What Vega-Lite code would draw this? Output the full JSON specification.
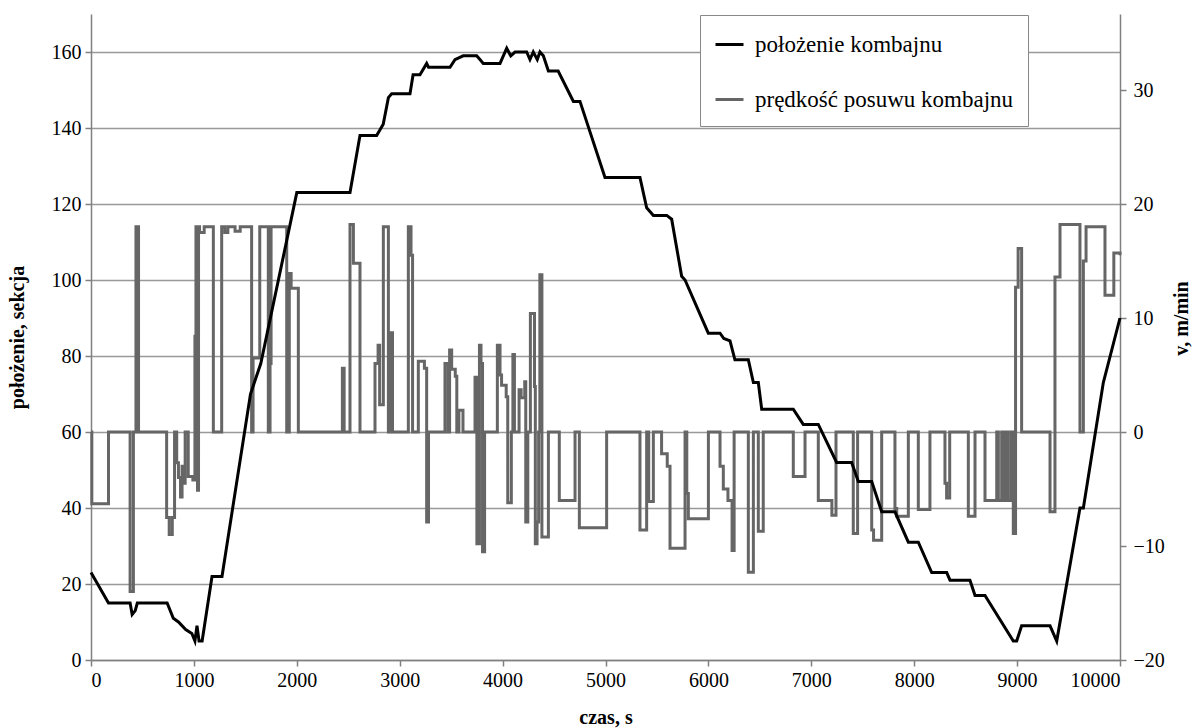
{
  "$schema": "https://vega.github.io/schema/vega-lite/v6.json",
  "width": 1029,
  "height": 646,
  "autosize": "none",
  "padding": {"left": 91, "top": 14, "right": 78, "bottom": 68},
  "background": "white",
  "config": {
    "view": {"stroke": null},
    "font": "Liberation Serif",
    "axis": {"labelFont": "Liberation Serif", "titleFont": "Liberation Serif", "labelFontSize": 20, "titleFontSize": 20, "titleFontWeight": "bold", "labelColor": "#000", "titleColor": "#000", "domainColor": "#808080", "domainWidth": 1.5, "tickColor": "#808080", "tickWidth": 1.5, "tickSize": 6}
  },
  "datasets": {
    "pos": [
      {"t": 0, "p": 23}, {"t": 170, "p": 15}, {"t": 380, "p": 15}, {"t": 400, "p": 12}, {"t": 430, "p": 13}, {"t": 450, "p": 15}, {"t": 740, "p": 15},
      {"t": 800, "p": 11}, {"t": 850, "p": 10}, {"t": 920, "p": 8}, {"t": 980, "p": 7}, {"t": 1010, "p": 5}, {"t": 1030, "p": 9}, {"t": 1050, "p": 5}, {"t": 1080, "p": 5},
      {"t": 1176, "p": 22}, {"t": 1273, "p": 22}, {"t": 1550, "p": 70}, {"t": 1600, "p": 74}, {"t": 1650, "p": 78}, {"t": 2000, "p": 123},
      {"t": 2517, "p": 123}, {"t": 2614, "p": 138}, {"t": 2776, "p": 138}, {"t": 2840, "p": 141}, {"t": 2890, "p": 148}, {"t": 2922, "p": 149}, {"t": 3100, "p": 149},
      {"t": 3130, "p": 154}, {"t": 3197, "p": 154}, {"t": 3262, "p": 157}, {"t": 3280, "p": 156}, {"t": 3489, "p": 156}, {"t": 3537, "p": 158}, {"t": 3617, "p": 159},
      {"t": 3748, "p": 159}, {"t": 3780, "p": 158}, {"t": 3812, "p": 157}, {"t": 3975, "p": 157}, {"t": 4040, "p": 161}, {"t": 4079, "p": 159}, {"t": 4121, "p": 160},
      {"t": 4234, "p": 160}, {"t": 4266, "p": 158}, {"t": 4298, "p": 160}, {"t": 4337, "p": 158}, {"t": 4363, "p": 160}, {"t": 4396, "p": 159}, {"t": 4445, "p": 155},
      {"t": 4540, "p": 155}, {"t": 4688, "p": 147}, {"t": 4752, "p": 147}, {"t": 4995, "p": 127}, {"t": 5335, "p": 127}, {"t": 5400, "p": 119}, {"t": 5465, "p": 117},
      {"t": 5595, "p": 117}, {"t": 5643, "p": 116}, {"t": 5740, "p": 101}, {"t": 5773, "p": 100}, {"t": 5999, "p": 86}, {"t": 6113, "p": 86}, {"t": 6150, "p": 84.6},
      {"t": 6210, "p": 84}, {"t": 6258, "p": 79}, {"t": 6388, "p": 79}, {"t": 6437, "p": 73}, {"t": 6485, "p": 73}, {"t": 6518, "p": 66}, {"t": 6825, "p": 66},
      {"t": 6922, "p": 62}, {"t": 7068, "p": 62}, {"t": 7246, "p": 52}, {"t": 7392, "p": 52}, {"t": 7457, "p": 47}, {"t": 7587, "p": 47}, {"t": 7684, "p": 39},
      {"t": 7813, "p": 39}, {"t": 7943, "p": 31}, {"t": 8040, "p": 31}, {"t": 8170, "p": 23}, {"t": 8316, "p": 23}, {"t": 8348, "p": 21}, {"t": 8542, "p": 21},
      {"t": 8591, "p": 17}, {"t": 8688, "p": 17}, {"t": 8963, "p": 5}, {"t": 8996, "p": 5}, {"t": 9044, "p": 9}, {"t": 9320, "p": 9}, {"t": 9385, "p": 5},
      {"t": 9611, "p": 40}, {"t": 9644, "p": 40}, {"t": 9838, "p": 73}, {"t": 10000, "p": 90}
    ],
    "vel": [
      {"t": 0, "v": 0}, {"t": 8, "v": -6.3}, {"t": 170, "v": 0}, {"t": 380, "v": -14}, {"t": 412, "v": 0}, {"t": 437, "v": 18}, {"t": 462, "v": 0},
      {"t": 735, "v": -7.5}, {"t": 760, "v": -9}, {"t": 790, "v": -7.5}, {"t": 812, "v": 0}, {"t": 833, "v": -2.7}, {"t": 850, "v": -4}, {"t": 870, "v": -5.7},
      {"t": 885, "v": -3}, {"t": 900, "v": -4.5}, {"t": 915, "v": 0}, {"t": 945, "v": -3.9}, {"t": 990, "v": -4.2}, {"t": 1010, "v": 8.4}, {"t": 1020, "v": 18},
      {"t": 1035, "v": -5.1}, {"t": 1045, "v": 18}, {"t": 1055, "v": 17.5}, {"t": 1100, "v": 18}, {"t": 1189, "v": 0}, {"t": 1270, "v": 18}, {"t": 1300, "v": 17.5},
      {"t": 1330, "v": 18}, {"t": 1400, "v": 17.6}, {"t": 1450, "v": 18}, {"t": 1561, "v": 0}, {"t": 1575, "v": 6.5}, {"t": 1640, "v": 18}, {"t": 1723, "v": 0},
      {"t": 1740, "v": 6}, {"t": 1750, "v": 18}, {"t": 1902, "v": 0}, {"t": 1927, "v": 13.9}, {"t": 1945, "v": 12.6}, {"t": 2015, "v": 0},
      {"t": 2443, "v": 5.6}, {"t": 2460, "v": 0}, {"t": 2517, "v": 18.2}, {"t": 2550, "v": 14.8}, {"t": 2614, "v": 0}, {"t": 2760, "v": 6}, {"t": 2790, "v": 7.6},
      {"t": 2805, "v": 2.4}, {"t": 2841, "v": 18}, {"t": 2890, "v": 0}, {"t": 2905, "v": 8.7}, {"t": 2930, "v": 0}, {"t": 3084, "v": 18}, {"t": 3110, "v": 15.5},
      {"t": 3125, "v": 0}, {"t": 3181, "v": 6.2}, {"t": 3240, "v": 5.6}, {"t": 3262, "v": -7.9}, {"t": 3280, "v": 0}, {"t": 3440, "v": 6}, {"t": 3470, "v": 0},
      {"t": 3485, "v": 7.2}, {"t": 3505, "v": 5.5}, {"t": 3540, "v": 4.9}, {"t": 3555, "v": 0}, {"t": 3575, "v": 1.9}, {"t": 3615, "v": 0}, {"t": 3732, "v": 4.8},
      {"t": 3750, "v": -9.8}, {"t": 3775, "v": 7.6}, {"t": 3790, "v": 6}, {"t": 3805, "v": -10.5}, {"t": 3825, "v": 0}, {"t": 3949, "v": 7.6}, {"t": 3975, "v": 5},
      {"t": 3990, "v": 4.1}, {"t": 4035, "v": 3.1}, {"t": 4050, "v": -6.2}, {"t": 4085, "v": 0}, {"t": 4100, "v": 6.8}, {"t": 4115, "v": 0}, {"t": 4160, "v": 3.7},
      {"t": 4180, "v": 3}, {"t": 4215, "v": 4.4}, {"t": 4225, "v": -7.9}, {"t": 4245, "v": 0}, {"t": 4270, "v": 10.4}, {"t": 4310, "v": 4}, {"t": 4318, "v": -9.8},
      {"t": 4335, "v": -7.9}, {"t": 4350, "v": 0}, {"t": 4362, "v": 13.8}, {"t": 4382, "v": -9.2}, {"t": 4445, "v": 0}, {"t": 4551, "v": -6}, {"t": 4704, "v": 0},
      {"t": 4746, "v": -8.4}, {"t": 5011, "v": 0}, {"t": 5335, "v": -8.6}, {"t": 5400, "v": 0}, {"t": 5420, "v": -6.1}, {"t": 5465, "v": 0}, {"t": 5545, "v": -1.9},
      {"t": 5600, "v": -3}, {"t": 5627, "v": -10.2}, {"t": 5773, "v": 0}, {"t": 5790, "v": -5.4}, {"t": 5805, "v": -7.6}, {"t": 6000, "v": 0}, {"t": 6113, "v": -3},
      {"t": 6145, "v": -5}, {"t": 6190, "v": -6}, {"t": 6230, "v": -10.4}, {"t": 6250, "v": 0}, {"t": 6388, "v": -12.3}, {"t": 6437, "v": 0}, {"t": 6485, "v": -8.7},
      {"t": 6533, "v": 0}, {"t": 6825, "v": -3.9}, {"t": 6939, "v": 0}, {"t": 7068, "v": -6}, {"t": 7200, "v": -7.3}, {"t": 7240, "v": 0}, {"t": 7408, "v": -8.9},
      {"t": 7450, "v": 0}, {"t": 7587, "v": -8.6}, {"t": 7605, "v": -9.5}, {"t": 7684, "v": 0}, {"t": 7813, "v": -6.7}, {"t": 7830, "v": -7.4}, {"t": 7943, "v": 0},
      {"t": 8040, "v": -6.8}, {"t": 8153, "v": 0}, {"t": 8299, "v": -4.5}, {"t": 8315, "v": -5.8}, {"t": 8345, "v": 0}, {"t": 8526, "v": -7.4}, {"t": 8591, "v": 0},
      {"t": 8688, "v": -6}, {"t": 8802, "v": 0}, {"t": 8818, "v": -6}, {"t": 8850, "v": 0}, {"t": 8867, "v": -6}, {"t": 8893, "v": 0}, {"t": 8915, "v": -6},
      {"t": 8945, "v": 0}, {"t": 8963, "v": -8.9}, {"t": 8985, "v": 12.7}, {"t": 9010, "v": 16.1}, {"t": 9044, "v": 0}, {"t": 9320, "v": -7}, {"t": 9368, "v": 13.6},
      {"t": 9417, "v": 18.2}, {"t": 9611, "v": 0}, {"t": 9644, "v": 15}, {"t": 9670, "v": 18}, {"t": 9854, "v": 12}, {"t": 9940, "v": 15.7}, {"t": 10000, "v": 15.5}
    ]
  },
  "encoding": {
    "x": {"field": "t", "type": "quantitative", "scale": {"domain": [0, 10000], "nice": false}, "axis": {"title": "czas, s", "values": [0,1000,2000,3000,4000,5000,6000,7000,8000,9000,10000], "format": "d", "grid": false, "labelPadding": 4, "titlePadding": 17}}
  },
  "layer": [
    {
      "data": {"name": "vel"},
      "mark": {"type": "line", "interpolate": "step-after", "strokeWidth": 3, "strokeJoin": "miter"},
      "encoding": {
        "y": {"field": "v", "type": "quantitative", "scale": {"domain": [-20, 36.667], "nice": false, "zero": false}, "axis": {"orient": "right", "title": "v, m/min", "titleAngle": 270, "titleY": 304, "values": [-20,-10,0,10,20,30], "grid": false, "labelPadding": 7, "titlePadding": 27}},
        "color": {"datum": "prędkość posuwu kombajnu", "type": "nominal"}
      }
    },
    {
      "data": {"name": "pos"},
      "mark": {"type": "line", "strokeWidth": 3},
      "encoding": {
        "y": {"field": "p", "type": "quantitative", "scale": {"domain": [0, 170], "nice": false}, "axis": {"orient": "left", "title": "położenie, sekcja", "values": [0,20,40,60,80,100,120,140,160], "grid": true, "gridColor": "#999999", "gridWidth": 1.5, "labelPadding": 4, "titlePadding": 24}},
        "color": {
          "datum": "położenie kombajnu", "type": "nominal",
          "scale": {"domain": ["położenie kombajnu", "prędkość posuwu kombajnu"], "range": ["#000000", "#666666"]},
          "legend": {"title": null, "orient": "none", "legendX": 609, "legendY": 1, "padding": 14, "strokeColor": "#888888", "fillColor": "white", "symbolType": "stroke", "symbolSize": 784, "symbolStrokeWidth": 3, "labelFont": "Liberation Serif", "labelFontSize": 23, "labelColor": "#000", "labelOffset": 10, "rowPadding": 27, "labelLimit": 400}
        }
      }
    }
  ],
  "resolve": {"scale": {"y": "independent"}}
}
